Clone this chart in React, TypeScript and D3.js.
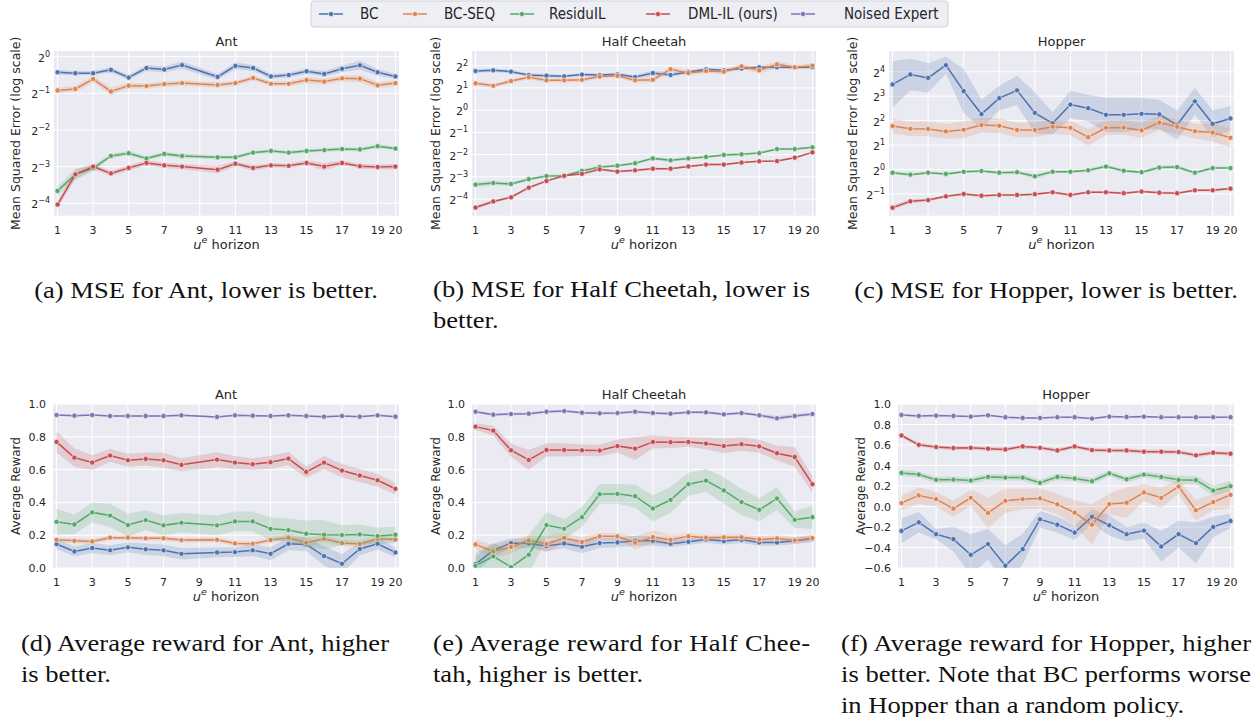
import React from 'react';
import * as d3 from 'd3';

// x values
const horizons = [1, 2, 3, 4, 5, 6, 7, 8, 9, 10, 11, 12, 13, 14, 15, 16, 17, 18, 19, 20];
const antHorizons = [1, 2, 3, 4, 5, 6, 7, 8, 10, 11, 12, 13, 14, 15, 16, 17, 18, 19, 20];
const xTickValues = [1, 3, 5, 7, 9, 11, 13, 15, 17, 19, 20];

const methods = ['BC', 'BC-SEQ', 'ResiduIL', 'DML-IL (ours)', 'Noised Expert'];
const colors = ['#4C72B0', '#DD8452', '#55A868', '#C44E52', '#8172B3'];

// MSE, Ant (no run at horizon 9)
const antMseBc = [0.745, 0.732, 0.732, 0.779, 0.674, 0.807, 0.785, 0.853, 0.683, 0.841, 0.807, 0.688, 0.707, 0.758, 0.722, 0.795, 0.85, 0.745, 0.688];
const antMseBcSeq = [0.528, 0.543, 0.655, 0.518, 0.578, 0.574, 0.595, 0.607, 0.586, 0.607, 0.669, 0.599, 0.599, 0.642, 0.624, 0.664, 0.66, 0.582, 0.607];
const antMseResidu = [0.079, 0.108, 0.121, 0.153, 0.161, 0.146, 0.159, 0.153, 0.149, 0.149, 0.163, 0.168, 0.163, 0.168, 0.171, 0.174, 0.173, 0.184, 0.176];
const antMseDml = [0.061, 0.108, 0.125, 0.11, 0.122, 0.134, 0.128, 0.125, 0.118, 0.132, 0.122, 0.128, 0.127, 0.134, 0.125, 0.134, 0.126, 0.124, 0.125];
const antMseBcCi = [0.07, 0.06, 0.06, 0.07, 0.07, 0.08, 0.08, 0.1, 0.08, 0.09, 0.08, 0.07, 0.07, 0.07, 0.07, 0.09, 0.12, 0.09, 0.07];
const antMseBcSeqCi = [0.08, 0.08, 0.09, 0.1, 0.08, 0.07, 0.07, 0.07, 0.07, 0.07, 0.07, 0.07, 0.07, 0.09, 0.08, 0.08, 0.1, 0.08, 0.08];
const antMseResiduCi = [0.12, 0.15, 0.09, 0.06, 0.06, 0.06, 0.06, 0.06, 0.05, 0.05, 0.05, 0.05, 0.05, 0.05, 0.05, 0.05, 0.05, 0.05, 0.05];
const antMseDmlCi = [0.1, 0.12, 0.08, 0.07, 0.07, 0.07, 0.07, 0.07, 0.1, 0.07, 0.07, 0.06, 0.06, 0.07, 0.1, 0.07, 0.06, 0.07, 0.07];

// MSE, Half Cheetah
const hcMseBc = [3.39, 3.46, 3.32, 2.99, 2.93, 2.87, 3.03, 2.99, 3.05, 2.81, 3.18, 2.99, 3.29, 3.58, 3.46, 3.66, 3.81, 3.81, 3.81, 3.81];
const hcMseBcSeq = [2.31, 2.14, 2.48, 2.79, 2.53, 2.53, 2.57, 2.85, 2.93, 2.53, 2.58, 3.58, 3.18, 3.39, 3.32, 3.92, 3.46, 4.17, 3.81, 4.0];
const hcMseResidu = [0.098, 0.103, 0.1, 0.116, 0.128, 0.129, 0.15, 0.17, 0.177, 0.191, 0.222, 0.209, 0.222, 0.232, 0.247, 0.252, 0.262, 0.297, 0.297, 0.314];
const hcMseDml = [0.048, 0.058, 0.066, 0.089, 0.11, 0.129, 0.137, 0.158, 0.147, 0.153, 0.161, 0.161, 0.173, 0.183, 0.183, 0.195, 0.203, 0.204, 0.227, 0.268];
const hcMseBcCi = [0.08, 0.08, 0.08, 0.07, 0.07, 0.07, 0.07, 0.07, 0.07, 0.08, 0.12, 0.08, 0.07, 0.07, 0.07, 0.07, 0.07, 0.08, 0.07, 0.07];
const hcMseBcSeqCi = [0.1, 0.09, 0.09, 0.09, 0.1, 0.1, 0.1, 0.08, 0.08, 0.1, 0.12, 0.12, 0.1, 0.1, 0.1, 0.1, 0.15, 0.15, 0.1, 0.1];
const hcMseResiduCi = [0.12, 0.1, 0.08, 0.07, 0.06, 0.06, 0.06, 0.06, 0.05, 0.05, 0.06, 0.08, 0.05, 0.05, 0.05, 0.05, 0.05, 0.05, 0.05, 0.05];
const hcMseDmlCi = [0.08, 0.07, 0.05, 0.05, 0.05, 0.04, 0.05, 0.05, 0.05, 0.05, 0.05, 0.04, 0.04, 0.05, 0.05, 0.04, 0.04, 0.04, 0.04, 0.05];

// MSE, Hopper
const hopperMseBc = [11.16, 14.83, 13.45, 19.29, 9.25, 4.82, 7.57, 9.45, 4.99, 3.71, 6.32, 5.7, 4.72, 4.72, 4.86, 4.79, 3.53, 6.92, 3.66, 4.26];
const hopperMseBcSeq = [3.43, 3.18, 3.16, 2.95, 3.09, 3.53, 3.46, 3.07, 3.07, 3.36, 3.27, 2.5, 3.27, 3.29, 3.03, 3.78, 3.36, 2.97, 2.85, 2.46];
const hopperMseResidu = [0.914, 0.865, 0.914, 0.883, 0.939, 0.959, 0.914, 0.927, 0.824, 0.939, 0.939, 0.979, 1.087, 0.966, 0.927, 1.057, 1.072, 0.914, 1.043, 1.043];
const hopperMseDml = [0.339, 0.406, 0.42, 0.467, 0.5, 0.476, 0.486, 0.486, 0.497, 0.525, 0.486, 0.525, 0.525, 0.511, 0.536, 0.518, 0.511, 0.555, 0.555, 0.582];
const hopperMseBcCi = [0.95, 0.65, 0.6, 0.35, 0.9, 0.6, 0.5, 0.6, 0.85, 0.45, 0.55, 0.55, 0.7, 0.7, 0.65, 0.6, 0.6, 0.55, 0.55, 0.5];
const hopperMseBcSeqCi = [0.3, 0.3, 0.3, 0.3, 0.35, 0.3, 0.3, 0.3, 0.3, 0.3, 0.3, 0.35, 0.3, 0.3, 0.3, 0.3, 0.3, 0.3, 0.35, 0.4];
const hopperMseResiduCi = [0.06, 0.06, 0.05, 0.05, 0.05, 0.05, 0.05, 0.05, 0.1, 0.06, 0.06, 0.06, 0.08, 0.06, 0.06, 0.08, 0.08, 0.06, 0.06, 0.06];
const hopperMseDmlCi = [0.1, 0.08, 0.06, 0.05, 0.05, 0.05, 0.05, 0.05, 0.05, 0.05, 0.05, 0.05, 0.05, 0.05, 0.05, 0.05, 0.05, 0.05, 0.05, 0.05];

// Average reward, Ant (no run at horizon 9)
const antRewBc = [0.146, 0.101, 0.122, 0.108, 0.126, 0.114, 0.108, 0.087, 0.095, 0.097, 0.108, 0.087, 0.148, 0.144, 0.073, 0.026, 0.116, 0.148, 0.095];
const antRewBcSeq = [0.172, 0.166, 0.162, 0.185, 0.185, 0.181, 0.181, 0.17, 0.172, 0.15, 0.148, 0.17, 0.185, 0.154, 0.178, 0.152, 0.146, 0.178, 0.174];
const antRewResidu = [0.282, 0.266, 0.339, 0.32, 0.262, 0.292, 0.26, 0.276, 0.26, 0.284, 0.284, 0.239, 0.231, 0.209, 0.203, 0.201, 0.205, 0.195, 0.203];
const antRewDml = [0.769, 0.673, 0.643, 0.686, 0.657, 0.665, 0.657, 0.629, 0.661, 0.643, 0.633, 0.645, 0.667, 0.586, 0.643, 0.594, 0.564, 0.535, 0.483];
const antRewExpert = [0.933, 0.929, 0.933, 0.927, 0.927, 0.927, 0.927, 0.931, 0.921, 0.931, 0.929, 0.927, 0.931, 0.927, 0.923, 0.927, 0.923, 0.931, 0.923];
const antRewBcCi = [0.03, 0.03, 0.03, 0.03, 0.03, 0.035, 0.035, 0.035, 0.03, 0.03, 0.035, 0.04, 0.04, 0.04, 0.06, 0.06, 0.04, 0.035, 0.03];
const antRewBcSeqCi = [0.015, 0.015, 0.015, 0.015, 0.015, 0.015, 0.015, 0.015, 0.015, 0.015, 0.015, 0.015, 0.02, 0.03, 0.02, 0.02, 0.02, 0.015, 0.015];
const antRewResiduCi = [0.08, 0.06, 0.06, 0.07, 0.07, 0.06, 0.06, 0.06, 0.06, 0.06, 0.06, 0.07, 0.07, 0.08, 0.09, 0.06, 0.06, 0.05, 0.05];
const antRewDmlCi = [0.065, 0.055, 0.045, 0.04, 0.04, 0.04, 0.045, 0.04, 0.045, 0.04, 0.035, 0.04, 0.04, 0.035, 0.04, 0.04, 0.04, 0.04, 0.035];
const antRewExpertCi = [0.005, 0.005, 0.005, 0.005, 0.005, 0.005, 0.005, 0.005, 0.005, 0.005, 0.005, 0.005, 0.005, 0.005, 0.005, 0.005, 0.005, 0.005, 0.005];

// Average reward, Half Cheetah
const hcRewBc = [0.024, 0.108, 0.152, 0.15, 0.134, 0.15, 0.13, 0.152, 0.156, 0.166, 0.166, 0.148, 0.16, 0.174, 0.164, 0.172, 0.156, 0.156, 0.166, 0.178];
const hcRewBcSeq = [0.144, 0.101, 0.128, 0.168, 0.146, 0.183, 0.158, 0.193, 0.193, 0.154, 0.189, 0.172, 0.193, 0.185, 0.187, 0.187, 0.174, 0.181, 0.168, 0.183];
const hcRewResidu = [0.014, 0.071, 0.006, 0.081, 0.262, 0.239, 0.31, 0.45, 0.452, 0.438, 0.363, 0.416, 0.511, 0.533, 0.473, 0.402, 0.355, 0.424, 0.294, 0.31];
const hcRewDml = [0.862, 0.838, 0.718, 0.659, 0.72, 0.72, 0.718, 0.716, 0.744, 0.728, 0.769, 0.767, 0.769, 0.759, 0.744, 0.755, 0.742, 0.7, 0.677, 0.511];
const hcRewExpert = [0.953, 0.935, 0.939, 0.941, 0.953, 0.957, 0.947, 0.943, 0.945, 0.953, 0.945, 0.941, 0.949, 0.949, 0.937, 0.945, 0.931, 0.913, 0.927, 0.939];
const hcRewBcCi = [0.05, 0.04, 0.03, 0.03, 0.03, 0.03, 0.04, 0.03, 0.03, 0.03, 0.03, 0.02, 0.02, 0.02, 0.02, 0.02, 0.02, 0.02, 0.02, 0.02];
const hcRewBcSeqCi = [0.03, 0.04, 0.04, 0.03, 0.05, 0.03, 0.03, 0.02, 0.02, 0.04, 0.04, 0.03, 0.02, 0.02, 0.02, 0.02, 0.02, 0.02, 0.02, 0.02];
const hcRewResiduCi = [0.08, 0.08, 0.1, 0.12, 0.08, 0.06, 0.06, 0.06, 0.06, 0.07, 0.08, 0.08, 0.07, 0.07, 0.08, 0.08, 0.07, 0.07, 0.05, 0.07];
const hcRewDmlCi = [0.02, 0.03, 0.04, 0.06, 0.04, 0.04, 0.035, 0.035, 0.04, 0.07, 0.04, 0.035, 0.03, 0.035, 0.045, 0.04, 0.04, 0.045, 0.06, 0.05];
const hcRewExpertCi = [0.008, 0.008, 0.008, 0.008, 0.008, 0.008, 0.008, 0.008, 0.008, 0.008, 0.008, 0.008, 0.008, 0.008, 0.008, 0.008, 0.01, 0.015, 0.01, 0.01];

// Average reward, Hopper
const hopperRewBc = [-0.238, -0.154, -0.27, -0.319, -0.471, -0.367, -0.577, -0.416, -0.125, -0.177, -0.254, -0.099, -0.183, -0.27, -0.235, -0.39, -0.27, -0.357, -0.199, -0.141];
const hopperRewBcSeq = [0.034, 0.108, 0.072, -0.021, 0.085, -0.063, 0.056, 0.072, 0.079, 0.021, -0.06, -0.177, 0.024, 0.037, 0.137, 0.085, 0.195, -0.037, 0.043, 0.114];
const hopperRewResidu = [0.328, 0.312, 0.26, 0.263, 0.253, 0.289, 0.282, 0.282, 0.231, 0.289, 0.273, 0.247, 0.324, 0.266, 0.312, 0.289, 0.26, 0.257, 0.156, 0.198];
const hopperRewDml = [0.693, 0.602, 0.58, 0.57, 0.573, 0.564, 0.557, 0.586, 0.573, 0.547, 0.586, 0.551, 0.547, 0.547, 0.535, 0.535, 0.531, 0.499, 0.525, 0.515];
const hopperRewExpert = [0.893, 0.884, 0.887, 0.884, 0.877, 0.89, 0.871, 0.864, 0.864, 0.871, 0.871, 0.858, 0.877, 0.874, 0.877, 0.871, 0.871, 0.871, 0.871, 0.871];
const hopperRewBcCi = [0.12, 0.1, 0.05, 0.12, 0.2, 0.15, 0.2, 0.15, 0.08, 0.08, 0.07, 0.07, 0.1, 0.07, 0.08, 0.15, 0.13, 0.2, 0.1, 0.07];
const hopperRewBcSeqCi = [0.07, 0.08, 0.07, 0.08, 0.08, 0.15, 0.12, 0.1, 0.1, 0.1, 0.12, 0.2, 0.1, 0.15, 0.08, 0.1, 0.07, 0.1, 0.08, 0.13];
const hopperRewResiduCi = [0.03, 0.03, 0.03, 0.03, 0.03, 0.03, 0.03, 0.03, 0.03, 0.03, 0.03, 0.03, 0.03, 0.03, 0.03, 0.03, 0.04, 0.04, 0.05, 0.05];
const hopperRewDmlCi = [0.02, 0.02, 0.02, 0.02, 0.02, 0.02, 0.02, 0.02, 0.02, 0.02, 0.02, 0.02, 0.02, 0.02, 0.02, 0.02, 0.02, 0.02, 0.02, 0.02];
const hopperRewExpertCi = [0.008, 0.008, 0.008, 0.008, 0.008, 0.008, 0.008, 0.008, 0.008, 0.008, 0.008, 0.008, 0.008, 0.008, 0.008, 0.008, 0.008, 0.008, 0.008, 0.008];

// axis ticks
const antMseExps = [-4, -3, -2, -1, 0];
const hcMseExps = [-4, -3, -2, -1, 0, 1, 2];
const hopperMseExps = [-1, 0, 1, 2, 3, 4];
const rewardTicks = [0, 0.2, 0.4, 0.6, 0.8, 1.0];
const hopperRewTicks = [-0.6, -0.4, -0.2, 0, 0.2, 0.4, 0.6, 0.8, 1.0];

const INK = '#262626';
const SANS = "'DejaVu Sans', sans-serif";

type Series = { color: string; values: number[]; ci: number[] };

type PanelProps = {
  id: string;
  title: string;
  box: { left: number; right: number; top: number; bottom: number };
  xs: number[];
  log: boolean;
  domain: [number, number];
  ticks: number[];
  yLabel: string;
  yLabelSize: number;
  labelX: number;
  series: Series[];
};

const fmt = d3.format('.1f');

const Panel = ({ id, title, box, xs, log, domain, ticks, yLabel, yLabelSize, labelX, series }: PanelProps) => {
  const x = d3.scaleLinear().domain([0.8, 20.2]).range([box.left, box.right]);
  const y = log
    ? d3.scaleLog().base(2).domain(domain).range([box.bottom, box.top])
    : d3.scaleLinear().domain(domain).range([box.bottom, box.top]);

  const lo = (v: number, c: number) => (log ? v * Math.pow(2, -c) : v - c);
  const hi = (v: number, c: number) => (log ? v * Math.pow(2, c) : v + c);

  const line = d3.line<number>().x((_, i) => x(xs[i])).y((v) => y(v));
  const tickPos = (t: number) => (log ? y(Math.pow(2, t)) : y(t));
  const midY = (box.top + box.bottom) / 2;

  return (
    <g>
      <defs>
        <clipPath id={`clip-${id}`}>
          <rect x={box.left} y={box.top} width={box.right - box.left} height={box.bottom - box.top} />
        </clipPath>
      </defs>
      <rect x={box.left} y={box.top} width={box.right - box.left} height={box.bottom - box.top} fill="#EAEAF2" />
      {xTickValues.map((t) => (
        <line key={`gx${t}`} x1={x(t)} x2={x(t)} y1={box.top} y2={box.bottom} stroke="#fff" strokeWidth={1} />
      ))}
      {ticks.map((t) => (
        <line key={`gy${t}`} x1={box.left} x2={box.right} y1={tickPos(t)} y2={tickPos(t)} stroke="#fff" strokeWidth={1} />
      ))}
      <g clipPath={`url(#clip-${id})`}>
        {series.map((s, si) => {
          const area = d3
            .area<number>()
            .x((_, i) => x(xs[i]))
            .y0((v, i) => y(lo(v, s.ci[i])))
            .y1((v, i) => y(hi(v, s.ci[i])));
          return (
            <g key={si}>
              <path d={area(s.values) || ''} fill={s.color} fillOpacity={0.2} />
              <path d={line(s.values) || ''} fill="none" stroke={s.color} strokeWidth={1.5} />
              {s.values.map((v, i) => (
                <circle key={i} cx={x(xs[i])} cy={y(v)} r={2.6} fill={s.color} stroke="#fff" strokeWidth={0.6} />
              ))}
            </g>
          );
        })}
      </g>
      {xTickValues.map((t) => (
        <text key={`tx${t}`} x={x(t)} y={box.bottom + 18} textAnchor="middle" fontSize={11} fill={INK} fontFamily={SANS}>
          {t}
        </text>
      ))}
      {ticks.map((t) =>
        log ? (
          <text key={`ty${t}`} x={box.left - 4} y={tickPos(t) + 5} textAnchor="end" fontSize={11} fill={INK} fontFamily={SANS}>
            2<tspan dy={-5} fontSize={8}>{t < 0 ? `\u2212${-t}` : t}</tspan>
          </text>
        ) : (
          <text key={`ty${t}`} x={box.left - 7} y={tickPos(t) + 4} textAnchor="end" fontSize={11} fill={INK} fontFamily={SANS}>
            {fmt(t)}
          </text>
        )
      )}
      <text x={(box.left + box.right) / 2} y={box.top - 5} textAnchor="middle" fontSize={13} fill={INK} fontFamily={SANS}>
        {title}
      </text>
      <text x={(box.left + box.right) / 2} y={box.bottom + 33} textAnchor="middle" fontSize={13} fill={INK} fontFamily={SANS}>
        <tspan fontStyle="italic">u</tspan>
        <tspan dy={-6} fontSize={9.5} fontStyle="italic">e</tspan>
        <tspan dy={6}> horizon</tspan>
      </text>
      <text
        transform={`translate(${labelX + 4.5},${midY}) rotate(-90)`}
        textAnchor="middle"
        fontSize={yLabelSize}
        fill={INK}
        fontFamily={SANS}
      >
        {yLabel}
      </text>
    </g>
  );
};

const mk = (vals: number[][], cis: number[][]): Series[] =>
  vals.map((v, i) => ({ color: colors[i], values: v, ci: cis[i] }));

const CAP_SCALE = 1.13;
type CapLine = { text: string; x: number; y: number; width?: number; anchor?: 'start' | 'middle' };

const captionLines: CapLine[] = [
  { text: '(a) MSE for Ant, lower is better.', x: 206, y: 298, anchor: 'middle' },
  { text: '(b) MSE for Half Cheetah, lower is', x: 433, y: 297, width: 377 },
  { text: 'better.', x: 433, y: 328 },
  { text: '(c) MSE for Hopper, lower is better.', x: 1046, y: 298, anchor: 'middle' },
  { text: '(d) Average reward for Ant, higher', x: 21, y: 651, width: 368 },
  { text: 'is better.', x: 21, y: 682 },
  { text: '(e) Average reward for Half Chee-', x: 433, y: 651, width: 377 },
  { text: 'tah, higher is better.', x: 433, y: 682 },
  { text: '(f) Average reward for Hopper, higher', x: 841, y: 651, width: 410 },
  { text: 'is better. Note that BC performs worse', x: 841, y: 682, width: 410 },
  { text: 'in Hopper than a random policy.', x: 841, y: 713 },
];

const legendItems = [
  { marker: 331, text: 360 },
  { marker: 415, text: 444 },
  { marker: 522, text: 549 },
  { marker: 658, text: 688 },
  { marker: 803, text: 844 },
];

const App = () => {
  const topBox = { top: 51, bottom: 215.7 };
  const botBox = { top: 404, bottom: 568 };
  return (
    <svg
      width={1255}
      height={717}
      style={{ position: 'absolute', left: 0, top: 0, background: '#fff' }}
    >
      {/* legend */}
      <rect x={311} y={1} width={637} height={26} rx={3} fill="#EAEAF2" fillOpacity={0.8} stroke="#cfcfd6" strokeWidth={1} />
      {legendItems.map((it, i) => (
        <g key={i}>
          <line x1={it.marker - 12} x2={it.marker + 12} y1={14} y2={14} stroke={colors[i]} strokeWidth={1.5} />
          <circle cx={it.marker} cy={14} r={2.6} fill={colors[i]} stroke="#fff" strokeWidth={0.6} />
          <text
            x={it.text}
            y={19}
            fontSize={15}
            fill={INK}
            fontFamily="'DejaVu Sans Condensed', 'DejaVu Sans', sans-serif"
            style={{ fontStretch: 'condensed' }}
          >
            {methods[i]}
          </text>
        </g>
      ))}

      <Panel
        id="a"
        title="Ant"
        box={{ left: 54, right: 399, ...topBox }}
        xs={antHorizons}
        log
        domain={[Math.pow(2, -4.34), Math.pow(2, 0.155)]}
        ticks={antMseExps}
        yLabel="Mean Squared Error (log scale)"
        yLabelSize={12.5}
        labelX={15}
        series={mk([antMseBc, antMseBcSeq, antMseResidu, antMseDml], [antMseBcCi, antMseBcSeqCi, antMseResiduCi, antMseDmlCi])}
      />
      <Panel
        id="b"
        title="Half Cheetah"
        box={{ left: 472, right: 816, ...topBox }}
        xs={horizons}
        log
        domain={[Math.pow(2, -4.75), Math.pow(2, 2.66)]}
        ticks={hcMseExps}
        yLabel="Mean Squared Error (log scale)"
        yLabelSize={12.5}
        labelX={435}
        series={mk([hcMseBc, hcMseBcSeq, hcMseResidu, hcMseDml], [hcMseBcCi, hcMseBcSeqCi, hcMseResiduCi, hcMseDmlCi])}
      />
      <Panel
        id="c"
        title="Hopper"
        box={{ left: 889, right: 1234, ...topBox }}
        xs={horizons}
        log
        domain={[Math.pow(2, -1.89), Math.pow(2, 4.85)]}
        ticks={hopperMseExps}
        yLabel="Mean Squared Error (log scale)"
        yLabelSize={12.5}
        labelX={852}
        series={mk(
          [hopperMseBc, hopperMseBcSeq, hopperMseResidu, hopperMseDml],
          [hopperMseBcCi, hopperMseBcSeqCi, hopperMseResiduCi, hopperMseDmlCi]
        )}
      />
      <Panel
        id="d"
        title="Ant"
        box={{ left: 53, right: 399, ...botBox }}
        xs={antHorizons}
        log={false}
        domain={[0, 1]}
        ticks={rewardTicks}
        yLabel="Average Reward"
        yLabelSize={12}
        labelX={15}
        series={mk(
          [antRewBc, antRewBcSeq, antRewResidu, antRewDml, antRewExpert],
          [antRewBcCi, antRewBcSeqCi, antRewResiduCi, antRewDmlCi, antRewExpertCi]
        )}
      />
      <Panel
        id="e"
        title="Half Cheetah"
        box={{ left: 472, right: 816, ...botBox }}
        xs={horizons}
        log={false}
        domain={[0, 1]}
        ticks={rewardTicks}
        yLabel="Average Reward"
        yLabelSize={12}
        labelX={435}
        series={mk(
          [hcRewBc, hcRewBcSeq, hcRewResidu, hcRewDml, hcRewExpert],
          [hcRewBcCi, hcRewBcSeqCi, hcRewResiduCi, hcRewDmlCi, hcRewExpertCi]
        )}
      />
      <Panel
        id="f"
        title="Hopper"
        box={{ left: 898, right: 1234, ...botBox }}
        xs={horizons}
        log={false}
        domain={[-0.6, 1]}
        ticks={hopperRewTicks}
        yLabel="Average Reward"
        yLabelSize={12}
        labelX={860}
        series={mk(
          [hopperRewBc, hopperRewBcSeq, hopperRewResidu, hopperRewDml, hopperRewExpert],
          [hopperRewBcCi, hopperRewBcSeqCi, hopperRewResiduCi, hopperRewDmlCi, hopperRewExpertCi]
        )}
      />

      {/* sub-figure captions */}
      {captionLines.map((c, i) => (
        <g key={i} transform={`translate(${c.x},${c.y}) scale(${CAP_SCALE},1)`}>
          <text
            x={0}
            y={0}
            fontSize={23.5}
            fill="#111"
            fontFamily="'Liberation Serif', serif"
            textAnchor={c.anchor || 'start'}
            textLength={c.width ? c.width / CAP_SCALE : undefined}
            lengthAdjust={c.width ? 'spacing' : undefined}
          >
            {c.text}
          </text>
        </g>
      ))}
    </svg>
  );
};

export default App;
